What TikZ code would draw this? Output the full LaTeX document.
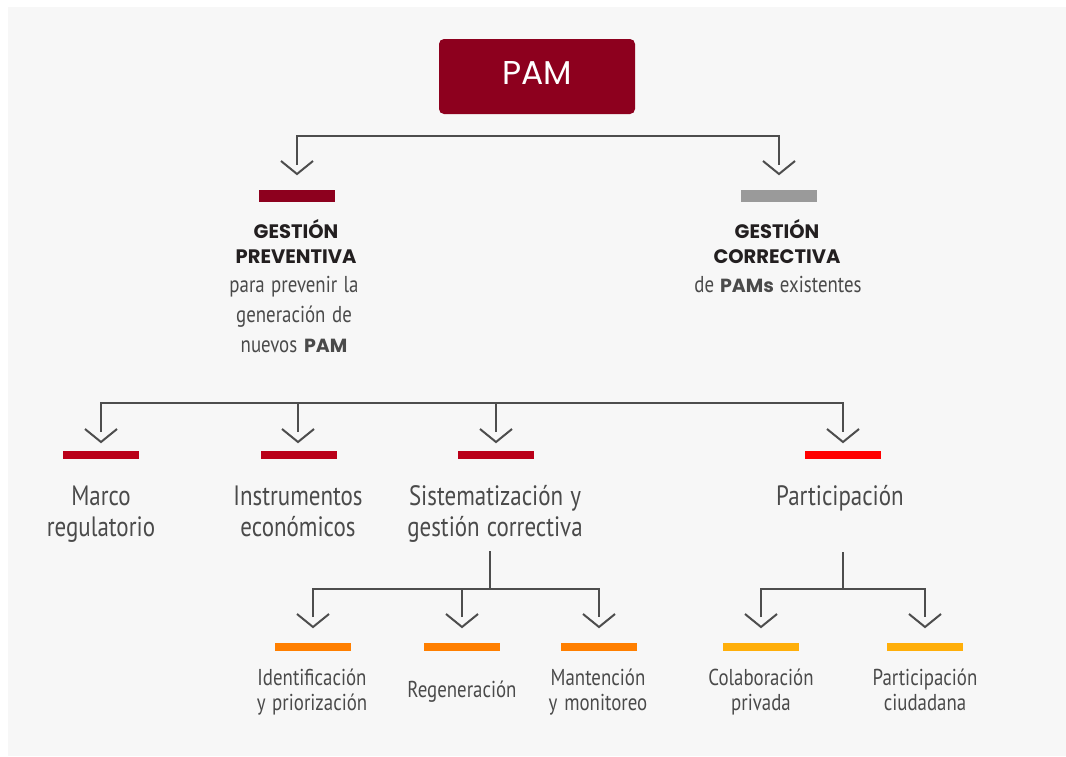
\documentclass[tikz,border=0pt]{standalone}
\usepackage{fontspec}
\setmainfont{PT Sans}
\newfontfamily\cond[FakeStretch=0.82]{PT Sans}
\newfontfamily\geo{Poppins}
\newcommand{\tightsp}{\spaceskip=0.22em plus 0.05em\relax}
\usetikzlibrary{calc}
\definecolor{bgc}{HTML}{F7F7F7}
\definecolor{pamred}{HTML}{8D001E}
\definecolor{crim}{HTML}{BA0019}
\definecolor{brightred}{HTML}{FF0000}
\definecolor{orangeb}{HTML}{FF7F00}
\definecolor{amberb}{HTML}{FFAF0A}
\definecolor{grayb}{HTML}{9A9A9A}
\definecolor{linec}{HTML}{4D4D4D}
\definecolor{txtc}{HTML}{4A4A4A}
\definecolor{headc}{HTML}{231F20}
\begin{document}
\begin{tikzpicture}[x=1pt,y=-1pt,
  conn/.style={draw=linec, line width=2.4pt, line join=miter},
  bar/.style={rectangle, inner sep=0pt, minimum width=76pt, minimum height=8pt},
  topbar/.style={bar, minimum height=12pt},
  blk/.style={anchor=base, text width=240pt, align=center, inner sep=0pt},
  body/.style={blk, text=txtc, execute at begin node=\tightsp},
  head/.style={blk, text=headc, font=\geo\bfseries\fontsize{19.5}{25}\selectfont},
  lonetxt/.style={body, font=\cond\fontsize{23}{30}\selectfont},
  ltwotxt/.style={body, font=\cond\fontsize{28}{31}\selectfont},
  lthreetxt/.style={body, font=\cond\fontsize{23}{25}\selectfont},
  chev/.pic={\draw[draw=linec, line width=2pt, line join=miter] (-16,-13) -- (0,0) -- (16,-13);}
]
\useasboundingbox (0,0) rectangle (1066,756);
\fill[white] (0,0) rectangle (1066,756);
\fill[bgc] (8,7) rectangle (1066,756);

% root
\node[fill=pamred, rounded corners=5pt, minimum width=196pt, minimum height=75pt,
      inner sep=0pt, text=white, text height=23pt, text depth=6.4pt,
      font=\geo\fontsize{33}{33}\selectfont] (pam) at (537,76.5) {PAM};

% level 1
\node[topbar, fill=pamred] (gpbar) at (297,196) {};
\node[topbar, fill=grayb] (gcbar) at (779,196) {};
\coordinate (gpend) at (297,165);
\coordinate (gcend) at (779,165);
\coordinate (jone) at (537,136);
\draw[conn] (gpend) |- (jone) -| (gcend);
\pic at (297,174) {chev};
\pic at (779,174) {chev};

\node[head] (gphead) at (296,238) {GESTIÓN\\PREVENTIVA};
\node[lonetxt] (gptext) at (294,292) {para prevenir la\\generación de\\nuevos {\geo\bfseries\fontsize{19}{30}\selectfont PAM}};
\node[head] (gchead) at (777,238) {GESTIÓN\\CORRECTIVA};
\node[lonetxt] (gctext) at (778,292) {de {\geo\bfseries\fontsize{19}{30}\selectfont PAMs} existentes};

% level 2
\node[bar, fill=crim] (mbar) at (101,455) {};
\node[bar, fill=crim] (ibar) at (299,455) {};
\node[bar, fill=crim] (sbar) at (496,455) {};
\node[bar, fill=brightred] (pbar) at (843,455) {};
\coordinate (mend) at (101,432);
\coordinate (iend) at (298,432);
\coordinate (send) at (496,432);
\coordinate (pend) at (843,432);
\coordinate (jtwo) at (470,403);
\draw[conn] (mend) |- (jtwo) -| (pend);
\draw[conn] (iend) -- (iend |- jtwo);
\draw[conn] (send) -- (send |- jtwo);
\pic at (101,442) {chev};
\pic at (298,442) {chev};
\pic at (496,442) {chev};
\pic at (843,442) {chev};

\node[ltwotxt] (marco) at (101,505) {Marco\\regulatorio};
\node[ltwotxt] (instr) at (298,505) {Instrumentos\\económicos};
\node[ltwotxt] (sist) at (495,505) {Sistematización y\\gestión correctiva};
\node[ltwotxt] (part) at (840,505) {Participación};

% level 3 under Sistematizacion
\coordinate (sstem) at (490,551);
\coordinate (jthree) at (490,589);
\draw[conn] (sstem) -- (jthree);
\node[bar, fill=orangeb] (idbar) at (313,647) {};
\node[bar, fill=orangeb] (rgbar) at (462,647) {};
\node[bar, fill=orangeb] (mtbar) at (599,647) {};
\coordinate (idend) at (313,617);
\coordinate (rgend) at (462,617);
\coordinate (mtend) at (599,617);
\draw[conn] (idend) |- (jthree) -| (mtend);
\draw[conn] (rgend) -- (rgend |- jthree);
\pic at (313,627) {chev};
\pic at (462,627) {chev};
\pic at (599,627) {chev};

\node[lthreetxt] (ident) at (312,685) {Identificación\\y priorización};
\node[lthreetxt] (regen) at (462,697) {Regeneración};
\node[lthreetxt] (mant) at (598,685) {Mantención\\y monitoreo};

% level 3 under Participacion
\coordinate (pstem) at (843,552);
\coordinate (jfour) at (843,589);
\draw[conn] (pstem) -- (jfour);
\node[bar, fill=amberb] (cobar) at (761,647) {};
\node[bar, fill=amberb] (cibar) at (925,647) {};
\coordinate (coend) at (761,617);
\coordinate (ciend) at (925,617);
\draw[conn] (coend) |- (jfour) -| (ciend);
\pic at (761,627) {chev};
\pic at (925,627) {chev};

\node[lthreetxt] (colab) at (761,685) {Colaboración\\privada};
\node[lthreetxt] (ciuda) at (925,685) {Participación\\ciudadana};
\end{tikzpicture}
\end{document}
